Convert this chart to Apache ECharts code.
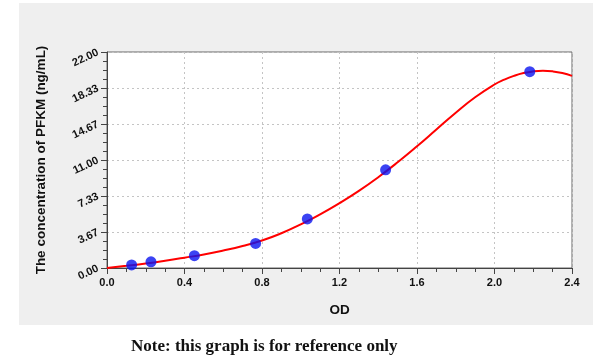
<!DOCTYPE html>
<html>
<head>
<meta charset="utf-8">
<script src="https://cdn.jsdelivr.net/npm/echarts@6/dist/echarts.min.js"></script>
<style>html,body{margin:0;padding:0;background:#fff;}#c{width:600px;height:361px;}</style>
</head>
<body>
<div id="c"></div>
<script>
// Standard points (OD, concentration ng/mL)
const stdOD = [0.127, 0.227, 0.451, 0.767, 1.034, 1.438, 2.182];
const stdConc = [0.31, 0.63, 1.25, 2.5, 5, 10, 20];
// Fitted curve
const curveOD = [0, 0.1, 0.2, 0.3, 0.4, 0.5, 0.6, 0.7, 0.8, 0.9, 1.0, 1.1, 1.2, 1.3, 1.4, 1.5, 1.6, 1.7, 1.8, 1.9, 2.0, 2.05, 2.1, 2.15, 2.2, 2.25, 2.3, 2.35, 2.4];
const curveConc = [0.0, 0.22, 0.46, 0.74, 1.05, 1.38, 1.78, 2.24, 2.80, 3.54, 4.44, 5.47, 6.61, 7.86, 9.25, 10.77, 12.40, 14.11, 15.82, 17.39, 18.69, 19.18, 19.57, 19.86, 20.03, 20.09, 20.03, 19.86, 19.57];
const yTicks = ['0.00', '3.67', '7.33', '11.00', '14.67', '18.33', '22.00'];
const xTitle = 'OD';
const yTitle = 'The concentration of PFKM (ng/mL)';
const note = 'Note: this graph is for reference only';

const FONT = 'Liberation Sans, Arial, sans-serif';
const chart = echarts.init(document.getElementById('c'), null, {renderer: 'canvas'});
chart.setOption({
  animation: false,
  backgroundColor: '#ffffff',
  graphic: [
    {type: 'rect', z: -10, shape: {x: 19, y: 3, width: 574, height: 322}, style: {fill: '#efefef'}},
    {type: 'text', left: 131, top: 338, style: {text: note, font: 'bold 17px "Liberation Serif", "DejaVu Serif", serif', fill: '#111'}}
  ],
  grid: {left: 107, right: 28, top: 52, bottom: 93, show: true, backgroundColor: '#ffffff', borderColor: '#666', borderWidth: 1},
  xAxis: {
    type: 'value', min: 0, max: 2.4, interval: 0.4,
    name: xTitle, nameLocation: 'middle', nameGap: 35,
    nameTextStyle: {fontFamily: FONT, fontWeight: 'bold', fontSize: 13.5, color: '#111'},
    axisLine: {show: true, lineStyle: {color: '#444', width: 1}},
    axisTick: {show: true, length: 6, lineStyle: {color: '#444'}},
    minorTick: {show: true, splitNumber: 4, length: 4, lineStyle: {color: '#444'}},
    axisLabel: {margin: 9, fontFamily: FONT, fontWeight: 'bold', fontSize: 11, color: '#111',
      formatter: v => v.toFixed(1)},
    splitLine: {show: true, lineStyle: {color: '#c4c4c4', type: [2, 3], width: 1}}
  },
  yAxis: {
    type: 'value', min: 0, max: 22, interval: 22 / 6,
    name: yTitle, nameLocation: 'middle', nameGap: 59,
    nameTextStyle: {fontFamily: FONT, fontWeight: 'bold', fontSize: 13.5, color: '#111'},
    axisLine: {show: true, lineStyle: {color: '#444', width: 1}},
    axisTick: {show: true, length: 6, lineStyle: {color: '#444'}},
    minorTick: {show: true, splitNumber: 4, length: 4, lineStyle: {color: '#444'}},
    axisLabel: {margin: 9, rotate: 25, fontFamily: FONT, fontWeight: 'bold', fontSize: 11, color: '#111',
      formatter: (v) => yTicks[Math.round(v / (22 / 6))]},
    splitLine: {show: true, lineStyle: {color: '#c4c4c4', type: [2, 3], width: 1}}
  },
  series: [
    {type: 'line', data: curveOD.map((x, i) => [x, curveConc[i]]), smooth: 0.5, showSymbol: false,
      lineStyle: {color: '#ff0000', width: 2}, z: 2},
    {type: 'scatter', data: stdOD.map((x, i) => [x, stdConc[i]]), symbolSize: 11,
      itemStyle: {color: '#0a14f0'}, z: 3}
  ]
});
</script>
</body>
</html>
